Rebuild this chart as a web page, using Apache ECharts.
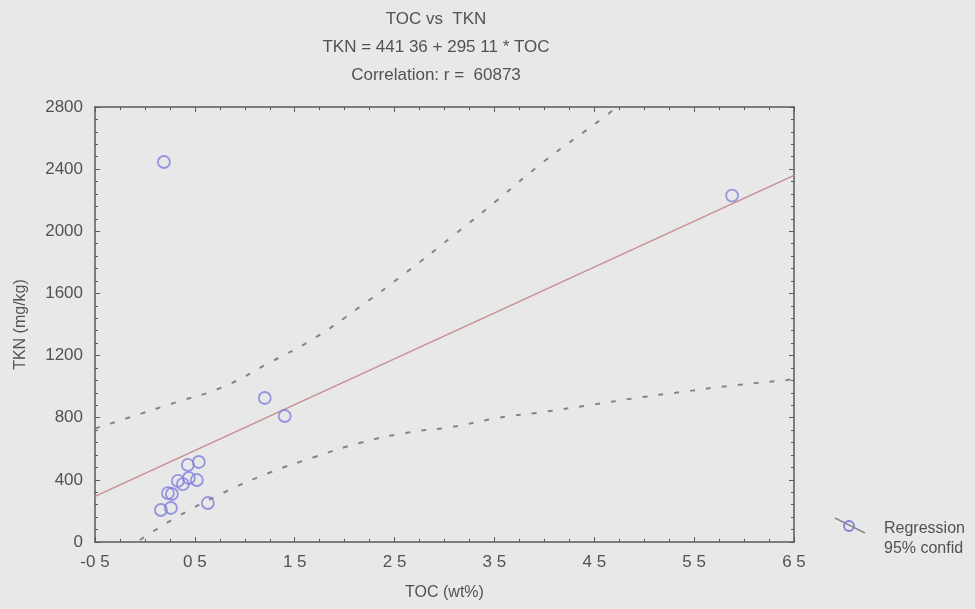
<!DOCTYPE html>
<html>
<head>
<meta charset="utf-8">
<script src="https://cdn.jsdelivr.net/npm/echarts@6/dist/echarts.min.js"></script>
<style>
  html, body { margin: 0; padding: 0; background: #e8e8e8; }
  #chart { width: 975px; height: 609px; }
</style>
</head>
<body>
<div id="chart"></div>
<script>
// TOC (wt%) and TKN (mg/kg) sample values
const tocValues = [0.19, 5.88, 1.20, 1.40, 0.43, 0.54, 0.33, 0.38, 0.44, 0.52, 0.23, 0.27, 0.16, 0.26, 0.63];
const tknValues = [2446, 2230, 927, 811, 496, 515, 393, 373, 412, 399, 315, 309, 206, 219, 251];

// Fitted regression: TKN = intercept + slope * TOC
const intercept = 441.36;
const slope = 295.11;
const lineX = [-0.5, 6.5];

// 95% confidence bands
const upperBandX = [-0.5, 0.32, 0.78, 1.24, 1.70, 2.15, 2.61, 3.07, 3.53, 3.99, 4.60, 4.72];
const upperBandY = [730, 901, 998, 1152, 1313, 1513, 1732, 1963, 2201, 2446, 2736, 2800];
const lowerBandX = [-0.05, 0.32, 0.78, 1.24, 1.70, 2.15, 2.61, 3.07, 3.53, 3.99, 4.46, 4.92, 5.38, 5.84, 6.43, 6.5];
const lowerBandY = [13, 161, 315, 444, 547, 637, 702, 740, 798, 837, 882, 927, 966, 1004, 1043, 1048];

// Axis ranges
const xMin = -0.5, xMax = 6.5, xStep = 1;
const yMin = 0, yMax = 2800, yStep = 400;

const textColor = '#525252';
const axisColor = '#5a5a5a';
const fontFamily = '"Liberation Sans", Arial, sans-serif';

const zip = (xs, ys) => xs.map((x, i) => [x, ys[i]]);
const regressionPoints = lineX.map(x => [x, intercept + slope * x]);
const fmtX = v => String(Math.round(v * 10) / 10).replace('.', ' ');
const fmtY = v => String(v);

const tickCommon = { show: true, inside: true, length: 5, lineStyle: { color: axisColor, width: 1 } };
const minorCommon = { show: true, length: 3, lineStyle: { color: axisColor, width: 1 } };
const lineCommon = { show: true, onZero: false, lineStyle: { color: axisColor, width: 1.5 } };

const chart = echarts.init(document.getElementById('chart'), null, { renderer: 'canvas' });

chart.setOption({
  backgroundColor: '#e8e8e8',
  animation: false,
  textStyle: { fontFamily: fontFamily },
  title: [
    { text: 'TOC vs  TKN', left: 431, top: 6, textAlign: 'center',
      textStyle: { fontSize: 17, fontWeight: 'normal', color: textColor, fontFamily: fontFamily } },
    { text: 'TKN = 441 36 + 295 11 * TOC', left: 431, top: 34, textAlign: 'center',
      textStyle: { fontSize: 17, fontWeight: 'normal', color: textColor, fontFamily: fontFamily } },
    { text: 'Correlation: r =  60873', left: 431, top: 62, textAlign: 'center',
      textStyle: { fontSize: 17, fontWeight: 'normal', color: textColor, fontFamily: fontFamily } }
  ],
  grid: { left: 95, right: 181, top: 107, bottom: 67, containLabel: false },
  legend: {
    orient: 'vertical',
    left: 866,
    top: 516,
    itemWidth: 8,
    itemHeight: 8,
    itemGap: 4,
    selectedMode: false,
    textStyle: { fontSize: 16, color: textColor, fontFamily: fontFamily },
    data: [
      { name: 'Regression', icon: 'none' },
      { name: '95% confid', icon: 'none' }
    ]
  },
  graphic: [
    { type: 'line', shape: { x1: 835, y1: 518, x2: 865, y2: 533 },
      style: { stroke: '#8a8a8a', lineWidth: 1.5 } },
    { type: 'circle', shape: { cx: 849, cy: 526, r: 5 },
      style: { fill: 'none', stroke: '#7f7fdc', lineWidth: 1.8 } }
  ],
  xAxis: [
    {
      type: 'value', position: 'bottom', min: xMin, max: xMax, interval: xStep,
      name: 'TOC (wt%)', nameLocation: 'middle', nameGap: 43,
      nameTextStyle: { fontSize: 16, color: textColor, fontFamily: fontFamily },
      axisLine: lineCommon, axisTick: tickCommon,
      minorTick: Object.assign({ splitNumber: 4 }, minorCommon),
      axisLabel: { fontSize: 17, color: textColor, margin: 12, formatter: fmtX, fontFamily: fontFamily },
      splitLine: { show: false }
    },
    {
      type: 'value', position: 'top', min: xMin, max: xMax, interval: xStep,
      axisLine: lineCommon, axisTick: tickCommon,
      minorTick: Object.assign({ splitNumber: 4 }, minorCommon),
      axisLabel: { show: false }, splitLine: { show: false }
    }
  ],
  yAxis: [
    {
      type: 'value', position: 'left', min: yMin, max: yMax, interval: yStep,
      name: 'TKN (mg/kg)', nameLocation: 'middle', nameGap: 66,
      nameTextStyle: { fontSize: 16, color: textColor, fontFamily: fontFamily },
      axisLine: lineCommon, axisTick: tickCommon,
      minorTick: Object.assign({ splitNumber: 5 }, minorCommon),
      axisLabel: { fontSize: 17, color: textColor, margin: 12, formatter: fmtY, fontFamily: fontFamily },
      splitLine: { show: false }
    },
    {
      type: 'value', position: 'right', min: yMin, max: yMax, interval: yStep,
      axisLine: lineCommon, axisTick: tickCommon,
      minorTick: Object.assign({ splitNumber: 5 }, minorCommon),
      axisLabel: { show: false }, splitLine: { show: false }
    }
  ],
  series: [
    {
      name: 'Regression',
      type: 'line',
      data: regressionPoints,
      symbol: 'none',
      lineStyle: { color: '#c98e94', width: 1.5 },
      z: 3
    },
    {
      name: '95% confid',
      type: 'line',
      data: zip(upperBandX, upperBandY),
      smooth: 0.5,
      symbol: 'none',
      clip: true,
      lineStyle: { color: '#858585', width: 2, type: [5, 11] },
      z: 2
    },
    {
      name: '95% confid',
      type: 'line',
      data: zip(lowerBandX, lowerBandY),
      smooth: 0.5,
      symbol: 'none',
      clip: true,
      lineStyle: { color: '#858585', width: 2, type: [5, 11] },
      z: 2
    },
    {
      name: 'TKN',
      type: 'scatter',
      data: zip(tocValues, tknValues),
      symbol: 'circle',
      symbolSize: 12,
      itemStyle: { color: 'rgba(0,0,0,0)', borderColor: '#7f7fdc', borderWidth: 1.8 },
      z: 4
    }
  ]
});
</script>
</body>
</html>
